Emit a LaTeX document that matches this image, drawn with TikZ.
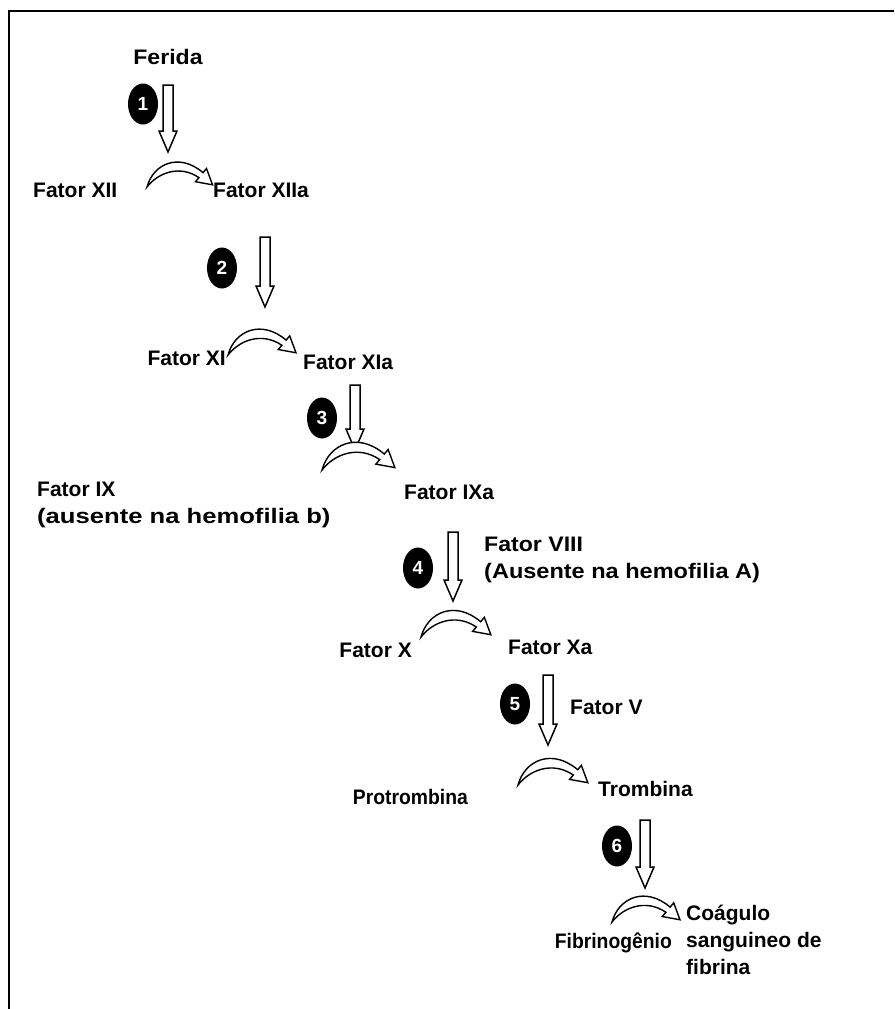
\documentclass[tikz,border=0pt]{standalone}
\usepackage{fontspec}
\setmainfont{Liberation Sans}
\usetikzlibrary{shapes.geometric,calc}
\tikzset{
  lbl/.style={font=\fontsize{21}{27}\selectfont\bfseries, inner sep=0pt, align=left, text=black},
  numdot/.style={ellipse, fill=black, minimum width=30pt, minimum height=41pt, inner sep=0pt,
    text=white, font=\fontsize{19}{19}\selectfont\bfseries},
  hollow/.style={draw=black, fill=white, line width=1.5pt, line join=miter},
  frame/.style={draw=black, line width=1.6pt},
}
% hollow down arrow from coordinate #1 (top) to coordinate #2 (tip)
\newcommand\hdownarrow[2]{%
  \path[hollow] let \p1=(#1), \p2=(#2) in
    (\x1-5,\y1) -- (\x1+5,\y1) -- (\x1+5,\y2+21) -- (\x1+9,\y2+21) -- (\x2,\y2)
    -- (\x1-9,\y2+21) -- (\x1-5,\y2+21) -- cycle;}
\newcommand\wide[2]{\scalebox{#1}[1]{#2}}
\tikzset{
  crescent/.pic={
    \path[hollow, line width=1.4pt]
      (0,0) .. controls (6,22) and (30,32) .. (51.9,13.3)
      -- (55.1,17.1) -- (60.7,2.0) -- (44.9,4.9) -- (48.1,8.7)
      .. controls (30,21) and (10,13) .. (0,0) -- cycle;
  }
}
\begin{document}
\begin{tikzpicture}[x=1pt,y=1pt]
\useasboundingbox (0,0) rectangle (894,-1009);
\fill[white] (0,0) rectangle (894,-1009);
\draw[frame] (9,-1009) -- (9,-11) -- (894,-11);

% labels
\node[lbl] (ferida) at (168,-57) {\wide{1.1}{Ferida}};
\node[lbl, anchor=west] (f12) at (33,-190) {Fator XII};
\node[lbl, anchor=west] (f12a) at (213,-190) {Fator XIIa};
\node[lbl, anchor=east] (f11) at (226,-358) {Fator XI};
\node[lbl, anchor=west] (f11a) at (303,-362) {Fator XIa};
\node[lbl, anchor=west] (f9a) at (404,-492) {Fator IXa};
\node[lbl, anchor=north west] (f9) at (37,-482) {Fator IX\\\wide{1.22}{(ausente na hemofilia b)}};
\node[lbl, anchor=north west] (f8) at (484,-537) {\wide{1.1}{Fator VIII}\\\wide{1.12}{(Ausente na hemofilia A)}};
\node[lbl, anchor=east] (f10) at (412,-650) {Fator X};
\node[lbl, anchor=west] (f10a) at (508,-647) {Fator Xa};
\node[lbl, anchor=west] (f5) at (570,-707) {Fator V};
\node[lbl, anchor=east] (prot) at (468,-797) {\wide{0.92}{Protrombina}};
\node[lbl, anchor=west] (trom) at (598,-789) {Trombina};
\node[lbl, anchor=east] (fibr) at (672,-943) {\wide{0.92}{Fibrinogênio}};
\node[lbl, anchor=north west] (coag) at (686,-905) {Coágulo\\sanguineo de\\fibrina};

% numbered dots
\node[numdot] (n1) at (143,-104) {1};
\node[numdot] (n2) at (222,-268) {2};
\node[numdot] (n3) at (322,-418) {3};
\node[numdot] (n4) at (418,-568) {4};
\node[numdot] (n5) at (515,-704) {5};
\node[numdot] (n6) at (617,-846) {6};

% arrow coordinates
\coordinate (a1s) at (168,-85);  \coordinate (a1e) at (168,-152);
\coordinate (a2s) at (265,-237); \coordinate (a2e) at (265,-307);
\coordinate (a3s) at (355,-385); \coordinate (a3e) at (355,-450);
\coordinate (a4s) at (453,-532); \coordinate (a4e) at (453,-601);
\coordinate (a5s) at (548,-675); \coordinate (a5e) at (548,-745);
\coordinate (a6s) at (645,-820); \coordinate (a6e) at (645,-888);

\hdownarrow{a1s}{a1e}
\hdownarrow{a2s}{a2e}
\hdownarrow{a3s}{a3e}
\hdownarrow{a4s}{a4e}
\hdownarrow{a5s}{a5e}
\hdownarrow{a6s}{a6e}

% curved arrows
\pic[scale=1.08] at (147,-187) {crescent};
\pic[scale=1.12] at (228,-355) {crescent};
\pic[scale=1.2] at (322,-470) {crescent};
\pic[scale=1.15] at (421,-637) {crescent};
\pic[scale=1.15] at (518,-785) {crescent};
\pic[scale=1.12] at (612,-922) {crescent};
\end{tikzpicture}
\end{document}
